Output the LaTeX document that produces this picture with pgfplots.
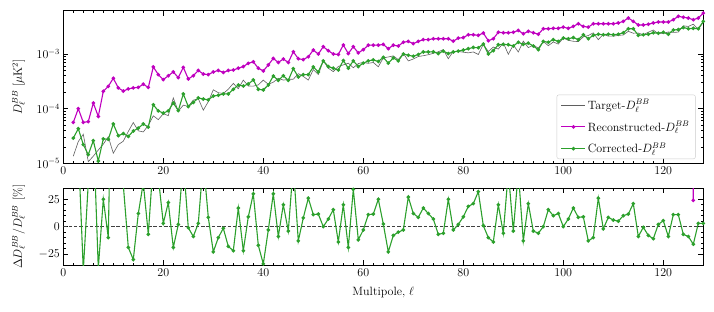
\documentclass[border=0pt]{standalone}
\usepackage{pgfplots}
\usepackage{pgfplotstable}
\pgfplotsset{compat=1.18}
\definecolor{mag}{RGB}{191,0,191}
\definecolor{tgreen}{RGB}{44,160,44}
\definecolor{tgray}{RGB}{95,95,95}

\pgfplotstableread{
l tgt rec cor
2 1.35e-5 5.6e-5 2.9e-5
3 2.5e-5 1.0e-4 4.3e-5
4 3.4e-5 5.6e-5 2.2e-5
5 1.07e-5 5.8e-5 1.44e-5
6 1.35e-5 1.27e-4 2.6e-5
7 1.75e-5 7.2e-5 1.1e-5
8 2.24e-5 2.08e-4 2.8e-5
9 3.06e-5 2.56e-4 2.75e-5
10 1.53e-5 3.6e-4 5.25e-5
11 2.2e-5 2.4e-4 3.2e-5
12 2.54e-5 2.1e-4 3.5e-5
13 3.83e-5 2.3e-4 3.1e-5
14 5.57e-5 2.4e-4 3.9e-5
15 3.93e-5 2.45e-4 4.4e-5
16 3.75e-5 2.8e-4 5.25e-5
17 4.95e-5 2.45e-4 4.6e-5
18 7.4e-5 5.8e-4 1.18e-4
19 6.3e-5 4.2e-4 9.1e-5
20 8.06e-5 3.4e-4 8.3e-5
21 7.46e-5 4.0e-4 9.1e-5
22 1.57e-4 4.7e-4 1.27e-4
23 9.0e-5 3.7e-4 9.2e-5
24 1.16e-4 5.7e-4 1.86e-4
25 1.1e-4 3.5e-4 1.09e-4
26 1.43e-4 4.0e-4 1.3e-4
27 1.52e-4 5.0e-4 1.57e-4
28 9.4e-5 4.3e-4 1.5e-4
29 1.34e-4 4.2e-4 1.45e-4
30 2.21e-4 4.7e-4 1.7e-4
31 1.96e-4 5.0e-4 1.76e-4
32 1.89e-4 4.6e-4 1.86e-4
33 2.27e-4 5.0e-4 1.86e-4
34 2.9e-4 5.1e-4 2.26e-4
35 2.32e-4 5.5e-4 2.71e-4
36 3.33e-4 5.9e-4 2.6e-4
37 2.6e-4 6.75e-4 2.83e-4
38 2.58e-4 7.2e-4 3.35e-4
39 2.72e-4 5.5e-4 2.26e-4
40 3.33e-4 4.9e-4 2.2e-4
41 2.79e-4 6.3e-4 2.71e-4
42 3.05e-4 8.3e-4 3.96e-4
43 3.6e-4 7.0e-4 3.3e-4
44 3.33e-4 8.1e-4 4.0e-4
45 3.44e-4 7.0e-4 3.3e-4
46 3.46e-4 1.1e-3 5.4e-4
47 4.37e-4 8.2e-4 3.8e-4
48 3.9e-4 7.9e-4 4.2e-4
49 3.33e-4 8.9e-4 4.2e-4
50 5.2e-4 1.18e-3 5.8e-4
51 4.2e-4 1.0e-3 4.7e-4
52 7.5e-4 1.36e-3 7.5e-4
53 5.5e-4 1.15e-3 5.9e-4
54 4.76e-4 1.0e-3 5.5e-4
55 5.93e-4 9.8e-4 5.1e-4
56 6.33e-4 1.46e-3 7.6e-4
57 6.8e-4 1.02e-3 5.5e-4
58 5.6e-4 1.36e-3 7.5e-4
59 6.7e-4 1.05e-3 5.9e-4
60 7.0e-4 1.2e-3 6.8e-4
61 6.76e-4 1.45e-3 7.5e-4
62 7.0e-4 1.45e-3 7.8e-4
63 5.84e-4 1.45e-3 7.3e-4
64 8.5e-4 1.5e-3 8.7e-4
65 8.83e-4 1.25e-3 6.8e-4
66 9.24e-4 1.45e-3 8.5e-4
67 7.9e-4 1.4e-3 7.5e-4
68 1.03e-3 1.64e-3 1.0e-3
69 7.48e-4 1.7e-3 9.5e-4
70 8.1e-4 1.55e-3 9.1e-4
71 9.0e-4 1.7e-3 9.8e-4
72 9.3e-4 1.83e-3 1.09e-3
73 9.7e-4 1.83e-3 1.09e-3
74 1.03e-3 1.9e-3 1.1e-3
75 1.1e-3 1.9e-3 1.02e-3
76 1.2e-3 1.9e-3 1.13e-3
77 8.2e-4 1.9e-3 1.02e-3
78 1.12e-3 1.72e-3 1.09e-3
79 1.11e-3 1.95e-3 1.13e-3
80 1.08e-3 2.0e-3 1.18e-3
81 1.05e-3 2.25e-3 1.25e-3
82 1.09e-3 2.25e-3 1.32e-3
83 9.8e-4 2.2e-3 1.3e-3
84 1.5e-3 2.42e-3 1.52e-3
85 1.11e-3 1.75e-3 1.0e-3
86 1.34e-3 1.9e-3 1.15e-3
87 1.23e-3 2.5e-3 1.48e-3
88 1.6e-3 2.45e-3 1.5e-3
89 9.9e-4 2.45e-3 1.48e-3
90 1.46e-3 2.5e-3 1.4e-3
91 1.09e-3 2.7e-3 1.64e-3
92 1.72e-3 2.35e-3 1.5e-3
93 1.31e-3 2.6e-3 1.58e-3
94 1.46e-3 2.45e-3 1.4e-3
95 1.28e-3 2.3e-3 1.2e-3
96 1.7e-3 2.9e-3 1.7e-3
97 1.42e-3 2.9e-3 1.64e-3
98 1.66e-3 2.95e-3 1.83e-3
99 1.52e-3 2.95e-3 1.7e-3
100 1.96e-3 3.1e-3 1.96e-3
101 1.78e-3 2.95e-3 1.9e-3
102 1.71e-3 3.2e-3 2.0e-3
103 1.69e-3 3.58e-3 1.83e-3
104 2.06e-3 3.2e-3 2.25e-3
105 2.18e-3 3.1e-3 1.9e-3
106 2.44e-3 3.58e-3 2.2e-3
107 1.83e-3 3.58e-3 2.3e-3
108 2.3e-3 3.58e-3 2.25e-3
109 2.12e-3 3.58e-3 2.3e-3
110 2.12e-3 3.58e-3 2.25e-3
111 2.19e-3 3.7e-3 2.3e-3
112 2.23e-3 3.96e-3 2.45e-3
113 2.6e-3 4.55e-3 2.9e-3
114 2.4e-3 3.96e-3 2.9e-3
115 2.42e-3 3.4e-3 2.2e-3
116 2.26e-3 3.4e-3 2.25e-3
117 2.5e-3 3.5e-3 2.3e-3
118 2.75e-3 3.7e-3 2.45e-3
119 2.35e-3 3.85e-3 2.4e-3
120 2.37e-3 3.85e-3 2.5e-3
121 2.53e-3 3.85e-3 2.3e-3
122 2.48e-3 4.24e-3 2.75e-3
123 2.52e-3 4.9e-3 2.8e-3
124 3.28e-3 4.7e-3 3.05e-3
125 3.19e-3 4.55e-3 2.9e-3
126 3.51e-3 4.24e-3 2.95e-3
127 2.82e-3 4.55e-3 2.9e-3
128 3.84e-3 5.6e-3 3.96e-3
}\spec

\pgfplotstableread{
l r
2 115
3 72
4 -40
5 40
6 90
7 -38
8 25
9 -10
10 240
11 45
12 38
13 -19
14 -30
15 12
16 40
17 -7
18 60
19 45
20 3
21 22
22 -19
23 2
24 60
25 -1
26 -9
27 3
28 60
29 8.5
30 -23
31 -10
32 -1.5
33 -18
34 -22
35 17
36 -22
37 9
38 30
39 -17
40 -34
41 -3
42 30
43 -9
44 20
45 -4
46 56
47 -13
48 8
49 26
50 11
51 11.5
52 0
53 7
54 15.5
55 -14
56 20
57 -19
58 34
59 -12
60 -3
61 11
62 11.5
63 25
64 2.4
65 -23
66 -8
67 -5
68 -3
69 27
70 12
71 8.5
72 17
73 12
74 7
75 -7
76 -6
77 25
78 -3
79 2
80 9
81 18.5
82 21
83 32
84 1
85 -10
86 -14
87 20
88 -6
89 50
90 -4
91 50
92 -13
93 21
94 -4
95 -6
96 0
97 15.5
98 10
99 12
100 0
101 7
102 17
103 8.5
104 9
105 -13
106 -10
107 26
108 -2
109 8.5
110 6
111 5
112 10
113 11.5
114 21
115 -9
116 -0.6
117 -8
118 -11
119 2
120 5.5
121 -9
122 11
123 11
124 -7
125 -9
126 -16
127 3
128 3
}\resid

\pgfplotsset{
  common/.style={
    scale only axis, width=640pt,
    xmin=0, xmax=128,
    xtick={0,20,...,120}, minor x tick num=9,
    tick align=inside, tick pos=both,
    major tick length=5pt, minor tick length=2.5pt,
    axis line style={line width=0.8pt},
    every tick/.style={black, line width=0.6pt},
    font=\fontsize{12}{14}\selectfont,
    ylabel style={at={(axis description cs:-0.07,0.5)}, anchor=center},
  },
  mk/.style={line width=1.1pt, mark=*, mark size=1.25pt},
}

\begin{document}
\begin{tikzpicture}
\useasboundingbox (-63.3pt,-46pt) rectangle (650.7pt,265pt);
\begin{axis}[common,
  at={(0pt,101.7pt)}, anchor=south west, height=152.6pt,
  ymode=log, ymin=1e-5, ymax=6.2e-3,
  ytick={1e-5,1e-4,1e-3},
  ylabel={$D_\ell^{BB}\ [\mu\mathrm{K}^2]$},
  legend style={at={(0.988,0.028)}, anchor=south east, draw=black!20,
    rounded corners=2pt, fill=white, fill opacity=0.8, text opacity=1,
    row sep=6.5pt, inner xsep=4pt, inner ysep=2.5pt, cells={anchor=west},
    font=\fontsize{12}{14}\selectfont},
  legend image code/.code={\draw[mark repeat=2,mark phase=2,#1] plot coordinates {(0pt,0pt) (12pt,0pt) (24pt,0pt)};},
]
\addplot[tgray, line width=0.6pt] table[x=l,y=tgt]{\spec};
\addlegendentry{Target-$D_\ell^{BB}$}
\addplot[mag, mk] table[x=l,y=rec]{\spec};
\addlegendentry{Reconstructed-$D_\ell^{BB}$}
\addplot[tgreen, mk] table[x=l,y=cor]{\spec};
\addlegendentry{Corrected-$D_\ell^{BB}$}
\end{axis}

\begin{axis}[common,
  at={(0pt,0pt)}, anchor=south west, height=76.7pt,
  ymin=-35, ymax=35, ytick={-25,0,25}, minor y tick num=4,
  xlabel={Multipole, $\ell$},
  xlabel style={at={(axis description cs:0.5,-0.36)}, anchor=center},
  ylabel={$\Delta D_\ell^{BB}/D_\ell^{BB}$ [\%]},
]
\addplot[black!75, line width=0.6pt, dash pattern=on 3.5pt off 1.8pt, forget plot] coordinates {(0,0) (128,0)};
\addplot[tgreen, mk] table[x=l,y=r]{\resid};
\addplot[mag, mk] coordinates {(120,62) (121,52) (122,71) (123,94) (124,300) (125,600) (126,24) (127,600) (128,300)};
\end{axis}
\end{tikzpicture}
\end{document}
